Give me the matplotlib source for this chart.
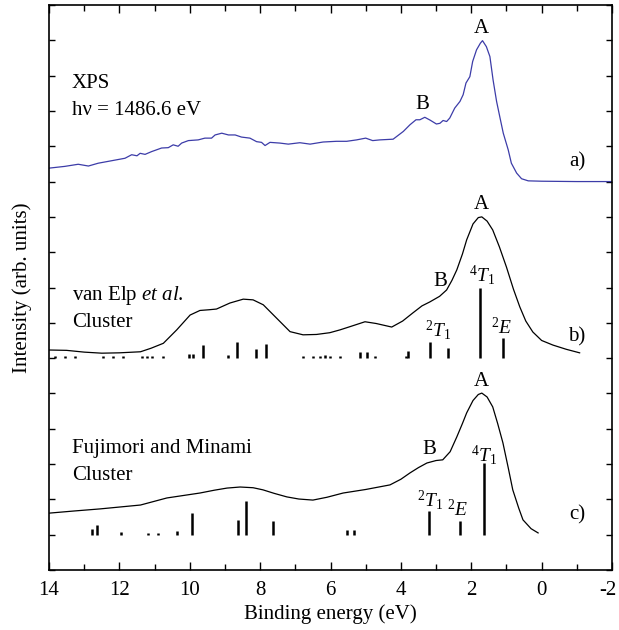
import numpy as np
import matplotlib
matplotlib.use("Agg")
import matplotlib.pyplot as plt
from matplotlib import font_manager
from matplotlib.ticker import MultipleLocator, FuncFormatter

# pick a Times-like serif that is actually installed
serif = 'DejaVu Serif'
for name in ['Liberation Serif', 'Times New Roman', 'Nimbus Roman', 'Tinos', 'DejaVu Serif']:
    try:
        font_manager.findfont(font_manager.FontProperties(family=name),
                              fallback_to_default=False)
        serif = name
        break
    except Exception:
        pass

plt.rcParams['font.family'] = 'serif'
plt.rcParams['font.serif'] = [serif, 'DejaVu Serif']
plt.rcParams['mathtext.fontset'] = 'custom'
plt.rcParams['mathtext.rm'] = serif
plt.rcParams['mathtext.it'] = serif + ':italic'
plt.rcParams['axes.unicode_minus'] = False

# a) XPS spectrum (binding energy eV, intensity)
xps_e = [14.0, 13.55, 13.17, 12.88, 12.6, 12.22, 11.84, 11.65, 11.5, 11.41, 11.27,
         11.08, 10.8, 10.61, 10.47, 10.33, 10.23, 10.04, 9.76, 9.57, 9.38, 9.28,
         9.09, 8.9, 8.71, 8.53, 8.29, 8.1, 7.96, 7.86, 7.72, 7.44, 7.2, 6.87, 6.58,
         6.21, 5.83, 5.54, 5.26, 5.0, 4.8, 4.6, 4.22, 3.93, 3.74, 3.57, 3.46, 3.32,
         3.17, 2.99, 2.89, 2.8, 2.7, 2.61, 2.47, 2.32, 2.23, 2.15, 2.04, 1.96, 1.85,
         1.74, 1.68, 1.57, 1.47, 1.38, 1.28, 1.19, 1.09, 0.95, 0.86, 0.71, 0.57,
         0.38, 0.0, -1.0, -2.0]
xps_i = [11.38, 11.43, 11.49, 11.44, 11.52, 11.59, 11.66, 11.76, 11.73, 11.8, 11.77,
         11.85, 11.95, 11.96, 12.04, 12.0, 12.09, 12.16, 12.18, 12.23, 12.23, 12.32,
         12.37, 12.32, 12.32, 12.26, 12.23, 12.13, 12.11, 12.02, 12.11, 12.09, 12.06,
         12.1, 12.06, 12.12, 12.14, 12.14, 12.18, 12.23, 12.16, 12.18, 12.2, 12.42,
         12.61, 12.75, 12.75, 12.82, 12.74, 12.63, 12.65, 12.73, 12.7, 12.8, 13.08,
         13.27, 13.46, 13.79, 13.97, 14.4, 14.73, 14.92, 14.99, 14.82, 14.54, 13.88,
         13.27, 12.84, 12.37, 11.9, 11.52, 11.24, 11.08, 11.02, 11.01, 11.0, 11.0]

# b) van Elp et al. cluster calculation
b_e = [14.0, 13.5, 13.0, 12.5, 12.0, 11.4, 11.1, 10.75, 10.37, 9.99, 9.71, 9.45,
       9.24, 8.86, 8.48, 8.2, 7.91, 7.53, 7.15, 6.78, 6.4, 6.02, 5.73, 5.45, 5.02,
       4.7, 4.26, 3.95, 3.66, 3.4, 3.18, 2.9, 2.7, 2.55, 2.41, 2.25, 2.13, 1.95,
       1.8, 1.7, 1.55, 1.39, 1.2, 1.0, 0.8, 0.62, 0.45, 0.25, 0.0, -0.32, -0.7, -1.08]
b_i = [6.23, 6.22, 6.17, 6.14, 6.15, 6.18, 6.28, 6.42, 6.8, 7.22, 7.35, 7.37,
       7.39, 7.56, 7.67, 7.65, 7.51, 7.13, 6.75, 6.66, 6.67, 6.72, 6.8, 6.89, 7.03,
       6.98, 6.88, 7.05, 7.28, 7.48, 7.59, 7.75, 7.93, 8.2, 8.5, 8.95, 9.35, 9.8,
       9.98, 10.0, 9.88, 9.63, 9.15, 8.58, 7.95, 7.45, 7.05, 6.74, 6.5, 6.37, 6.25, 6.15]
b_stick_e = [13.83, 13.55, 13.26, 12.47, 12.18, 11.9, 11.36, 11.22, 11.07, 10.76,
             10.01, 9.9, 9.62, 8.91, 8.67, 8.12, 7.84, 6.78, 6.49, 6.3, 6.16, 6.02,
             5.73, 5.16, 4.97, 4.74, 3.86, 3.8, 3.18, 2.67, 1.76, 1.1]
b_stick_h = [0.06, 0.06, 0.06, 0.06, 0.06, 0.06, 0.06, 0.06, 0.06, 0.06,
             0.12, 0.12, 0.38, 0.1, 0.45, 0.27, 0.4, 0.06, 0.06, 0.06, 0.08, 0.06,
             0.06, 0.18, 0.18, 0.06, 0.06, 0.2, 0.47, 0.28, 1.98, 0.57]

# c) Fujimori and Minami cluster calculation
c_e = [14.0, 13.3, 12.55, 11.4, 10.65, 9.71, 9.3, 8.94, 8.57, 8.2, 7.92, 7.6,
       7.24, 6.9, 6.5, 6.1, 5.64, 5.0, 4.31, 4.0, 3.74, 3.5, 3.26, 3.0, 2.81, 2.6,
       2.41, 2.25, 2.13, 1.95, 1.8, 1.7, 1.55, 1.39, 1.25, 1.1, 0.95, 0.82, 0.65,
       0.53, 0.3, 0.1]
c_i = [1.61, 1.67, 1.73, 1.84, 2.04, 2.18, 2.26, 2.32, 2.35, 2.33, 2.27, 2.17,
       2.07, 2.01, 1.98, 2.06, 2.18, 2.28, 2.41, 2.57, 2.75, 2.9, 3.03, 3.1, 3.12,
       3.35, 3.77, 4.15, 4.45, 4.8, 4.97, 5.01, 4.9, 4.62, 4.15, 3.6, 2.9, 2.27,
       1.75, 1.42, 1.17, 1.05]
c_stick_e = [12.78, 12.64, 11.95, 11.19, 10.9, 10.36, 9.94, 8.63, 8.4, 7.64,
             5.53, 5.34, 3.2, 2.32, 1.64]
c_stick_h = [0.17, 0.28, 0.08, 0.06, 0.06, 0.1, 0.62, 0.42, 0.96, 0.4,
             0.14, 0.14, 0.66, 0.38, 2.03]

b_base = 6.0
c_base = 1.0

fig = plt.figure(figsize=(6.19, 6.30), dpi=100)
ax = fig.add_axes([49/619, 60/630, 563/619, 565/630])

ax.plot(xps_e, xps_i, color='#3c3ca8', lw=0.9)
ax.plot(b_e, b_i, color='black', lw=0.9)
ax.plot(c_e, c_i, color='black', lw=0.9)
ax.vlines(b_stick_e, b_base, b_base + np.array(b_stick_h), color='black', lw=1.8)
ax.vlines(c_stick_e, c_base, c_base + np.array(c_stick_h), color='black', lw=1.8)

fs = 15
# panel a labels
ax.text(13.35, 13.65, "XPS", fontsize=fs, ha='left', va='baseline')
ax.text(13.35, 12.89, "h\u03bd = 1486.6 eV", fontsize=fs, ha='left', va='baseline')
ax.text(1.7, 15.33, "A", fontsize=fs, ha='center', va='center')
ax.text(3.38, 13.19, "B", fontsize=fs, ha='center', va='center')
ax.text(-1.03, 11.57, "a)", fontsize=fs, ha='center', va='center')

# panel b labels
ax.text(13.35, 7.65, "van Elp $\\mathit{et\\ al}$.", fontsize=fs, ha='left', va='baseline')
ax.text(13.35, 6.88, "Cluster", fontsize=fs, ha='left', va='baseline')
ax.text(1.7, 10.34, "A", fontsize=fs, ha='center', va='center')
ax.text(2.89, 8.17, "B", fontsize=fs, ha='center', va='center')
ax.text(1.7, 8.36, "$^{4}T_{\\mathit{1}}$", fontsize=14, ha='center', va='center')
ax.text(2.95, 6.8, "$^{2}T_{\\mathit{1}}$", fontsize=14, ha='center', va='center')
ax.text(1.13, 6.88, "$^{2}E$", fontsize=14, ha='center', va='center')
ax.text(-1.0, 6.6, "b)", fontsize=fs, ha='center', va='center')

# panel c labels
ax.text(13.35, 3.31, "Fujimori and Minami", fontsize=fs, ha='left', va='baseline')
ax.text(13.35, 2.55, "Cluster", fontsize=fs, ha='left', va='baseline')
ax.text(1.7, 5.34, "A", fontsize=fs, ha='center', va='center')
ax.text(3.18, 3.41, "B", fontsize=fs, ha='center', va='center')
ax.text(1.62, 3.26, "$^{4}T_{\\mathit{1}}$", fontsize=14, ha='center', va='center')
ax.text(3.18, 1.98, "$^{2}T_{\\mathit{1}}$", fontsize=14, ha='center', va='center')
ax.text(2.38, 1.7, "$^{2}E$", fontsize=14, ha='center', va='center')
ax.text(-1.0, 1.57, "c)", fontsize=fs, ha='center', va='center')

ax.set_xlim(14, -2)
ax.set_ylim(0, 16)
ax.xaxis.set_major_locator(MultipleLocator(2))
ax.xaxis.set_minor_locator(MultipleLocator(1))
ax.yaxis.set_major_locator(MultipleLocator(1))
ax.set_yticklabels([])
# the -2 label sits on the figure edge; it is drawn separately below
ax.xaxis.set_major_formatter(FuncFormatter(lambda v, p: '' if v < -1.5 else '%d' % v))
ax.tick_params(axis='x', which='major', direction='in', length=6, width=1,
               top=True, labelsize=fs, pad=8)
ax.tick_params(axis='x', which='minor', direction='in', length=4, width=1, top=True)
ax.tick_params(axis='y', which='major', direction='in', length=4, width=1,
               right=True, left=True)
for s in ax.spines.values():
    s.set_linewidth(1.2)

fig.text(617/619, (630 - 581)/630, "-2", fontsize=fs, ha='right', va='top')

ax.set_xlabel("Binding energy (eV)", fontsize=fs, labelpad=3)
ax.set_ylabel("Intensity (arb. units)", fontsize=fs)
ax.yaxis.set_label_coords(-0.03, 0.5)

fig.savefig("out.png", dpi=100)
